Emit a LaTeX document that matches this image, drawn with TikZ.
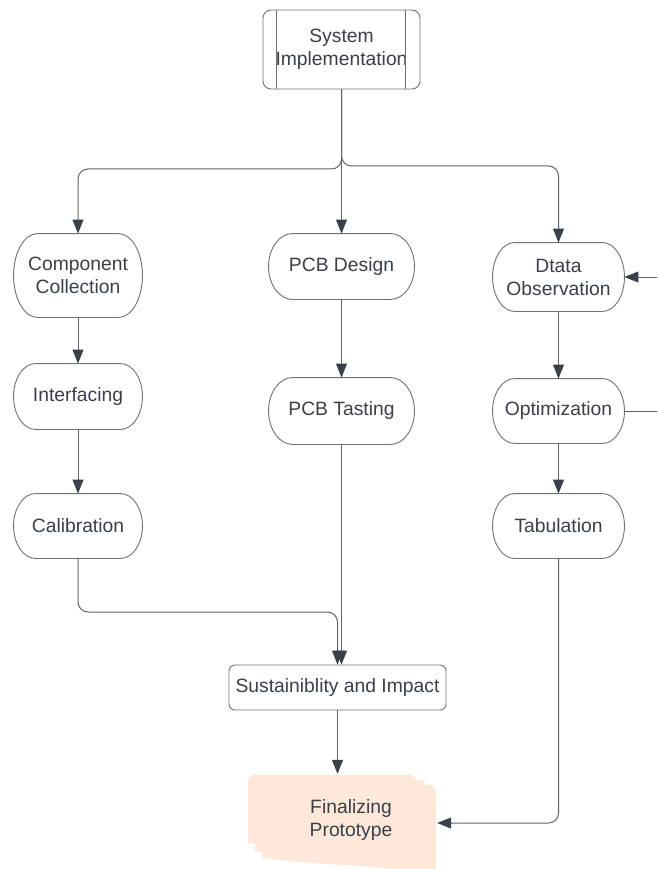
\documentclass[tikz,border=0pt]{standalone}
\usepackage{fontspec}
\setmainfont{Liberation Sans}
\usetikzlibrary{arrows.meta,calc}
\definecolor{ink}{HTML}{3A4049}
\definecolor{wire}{HTML}{5F646B}
\definecolor{edgegray}{HTML}{6E7175}
\definecolor{peach}{HTML}{FDE8DA}
\tikzset{
  base/.style={draw=edgegray, line width=0.9pt, text=ink,
    font=\fontsize{19.3}{23}\selectfont, align=center, inner sep=0pt},
  pill/.style={base, draw=none},
  outline/.style={draw=edgegray, line width=0.9pt},
  conn/.style={draw=wire, line width=1pt, rounded corners=10pt},
  arr/.style={conn, -{Triangle[length=14pt,width=11pt,color=ink]}},
}
\begin{document}
\begin{tikzpicture}[x=1pt,y=-1pt]
  \fill[white] (0,0) rectangle (657,869);
  \useasboundingbox (0,0) rectangle (657,869);

  % top process box with side bars
  \node[base, rounded corners=8pt, minimum width=157pt, minimum height=79pt]
    (sys) at (341.5,49.5) {System\\Implementation};
  \draw[outline] ([xshift=14pt]sys.north west) -- ([xshift=14pt]sys.south west);
  \draw[outline] ([xshift=-15pt]sys.north east) -- ([xshift=-15pt]sys.south east);

  % left column
  \node[pill, minimum width=128pt, minimum height=83pt] (comp) at (78,275.5) {Component\\Collection};
  \node[pill, minimum width=128pt, minimum height=65pt] (interf) at (78,396.5) {Interfacing};
  \node[pill, minimum width=128pt, minimum height=64pt] (calib) at (78,526) {Calibration};

  % middle column
  \node[pill, minimum width=145pt, minimum height=65pt] (pcbd) at (341.5,266.5) {PCB Design};
  \node[pill, minimum width=145pt, minimum height=66pt] (pcbt) at (341.5,411) {PCB Tasting};

  % right column
  \node[pill, minimum width=131pt, minimum height=68pt] (dtata) at (558.5,277) {Dtata\\Observation};
  \node[pill, minimum width=131pt, minimum height=64pt] (optim) at (558.5,411) {Optimization};
  \node[pill, minimum width=131pt, minimum height=64pt] (tab) at (558.5,526) {Tabulation};

  % terminator outlines: straight top and bottom, elliptical sides
  \foreach \nd/\r in {comp/24, interf/22, calib/22, pcbd/24, pcbt/24, dtata/22, optim/22, tab/22}{
    \draw[outline] let \p1=(\nd.north west), \p2=(\nd.south east), \n1={0.5*(\y1-\y2)} in
      ({\x1+\r*1pt},\y1) -- ({\x2-\r*1pt},\y1)
      arc[start angle=90, end angle=-90, x radius=\r*1pt, y radius=\n1]
      -- ({\x1+\r*1pt},\y2)
      arc[start angle=270, end angle=90, x radius=\r*1pt, y radius=\n1]
      -- cycle;
  }

  % merge box
  \node[base, rounded corners=6pt, minimum width=217pt, minimum height=45pt]
    (sust) at (337.5,687.5) {Sustainiblity and Impact};

  % stacked document shape
  \foreach \k/\xa/\xb/\yt/\yl/\yr in {2/262/436/785/858/876, 1/255/426/780/851/862, 0/248/416/775/843/852}{
    \fill[peach] (\xa,\yl) [rounded corners=6pt] -- (\xa,\yt) -- (\xb,\yt) [sharp corners] -- (\xb,\yr)
      .. controls ({\xb-0.3*(\xb-\xa)},{\yr-12}) and ({\xa+0.35*(\xb-\xa)},{\yl+8}) .. (\xa,\yl) -- cycle;
  }
  \node[minimum width=190pt, minimum height=95pt, inner sep=0pt] (finbox) at (342,821.5) {};
  \node[text=ink, font=\fontsize{19.3}{23}\selectfont, align=center] (fintext) at (351,820) {Finalizing\\Prototype};

  % free ends at the right border
  \coordinate (rin) at (657,277);
  \coordinate (rout) at (657,411);

  % connectors
  \draw[arr] (sys.south) -- (pcbd.north);
  \draw[arr] (sys.south) -- (sys.south |- 0,169) -- (comp.north |- 0,169) -- (comp.north);
  \draw[arr] (sys.south) -- (sys.south |- 0,166) -- (dtata.north |- 0,166) -- (dtata.north);

  \draw[arr] (comp.south) -- (interf.north);
  \draw[arr] (interf.south) -- (calib.north);
  \draw[arr] (pcbd.south) -- (pcbt.north);
  \draw[arr] (dtata.south) -- (optim.north);
  \draw[arr] (optim.south) -- (tab.north);

  \draw[arr] (calib.south) -- (calib.south |- 0,612) -- (sust.north |- 0,612) -- (sust.north);
  \draw[arr] (pcbt.south) -- (pcbt.south |- sust.north);
  \draw[arr] (sust.south) -- (sust.south |- finbox.north);
  \draw[arr] (tab.south) -- (tab.south |- 0,823) -- (finbox.east |- 0,823);

  \draw[arr] (rin) -- (dtata.east);
  \draw[conn] (optim.east) -- (rout);
\end{tikzpicture}
\end{document}
